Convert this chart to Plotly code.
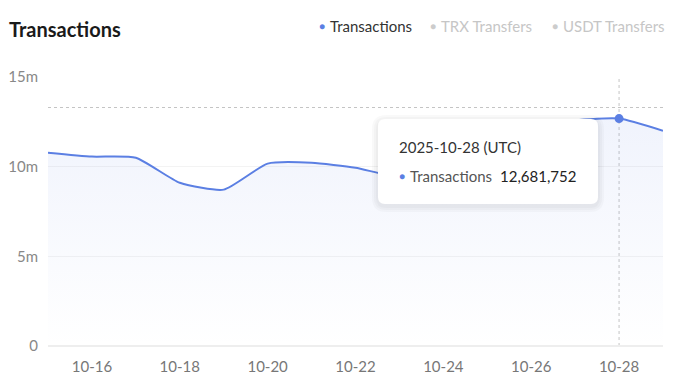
import plotly.graph_objects as go

# ---- data ----
dates = ["2025-10-15", "2025-10-16", "2025-10-17", "2025-10-18", "2025-10-19",
         "2025-10-20", "2025-10-21", "2025-10-22", "2025-10-23", "2025-10-24",
         "2025-10-25", "2025-10-26", "2025-10-27", "2025-10-28", "2025-10-29"]
transactions = [10780000, 10560000, 10500000, 9100000, 8720000,
                10170000, 10220000, 9940000, 9450000, 10300000,
                11200000, 12050000, 12580000, 12681752, 12000000]
ytick_vals = [0, 5000000, 10000000, 15000000]
ytick_text = ["0", "5m", "10m", "15m"]
legend_names = ["Transactions", "TRX Transfers", "USDT Transfers"]
hover_date = "2025-10-28"
hover_value = 12681752
cursor_y = 13300000

LINE = "#5b7fe3"
FONT = "Lato"

OFF = 8  # page body margin offset
W, H = 678 - OFF, 390 - OFF
L, T = 48 - OFF, 77 - OFF
R = W - (663 - OFF)
B = H - (346 - OFF)
PW, PH = W - L - R, H - T - B

def px(x):  # reference pixel x -> paper
    return (x - OFF - L) / PW

def py(y):  # reference pixel y -> paper
    return (H - B - (y - OFF)) / PH

fig = go.Figure()
fig.add_trace(go.Scatter(
    x=dates, y=transactions, mode="lines",
    line=dict(color=LINE, width=2, shape="spline", smoothing=0.55),
    fill="tozeroy",
    fillgradient=dict(type="vertical",
                      colorscale=[[0, "rgba(91,127,227,0.0)"], [1, "rgba(91,127,227,0.09)"]]),
    showlegend=False, hoverinfo="skip"))
fig.add_trace(go.Scatter(
    x=[hover_date], y=[hover_value], mode="markers",
    marker=dict(color=LINE, size=9), showlegend=False, hoverinfo="skip"))

shapes = []
# crosshair
shapes.append(dict(type="line", xref="x", yref="paper", x0=hover_date, x1=hover_date,
                   y0=0, y1=1, line=dict(color="#c4c4c4", width=1, dash="dot"), layer="below"))
shapes.append(dict(type="line", xref="paper", yref="y", x0=0, x1=1,
                   y0=cursor_y, y1=cursor_y, line=dict(color="#c4c4c4", width=1, dash="dot"), layer="below"))

def rrect(x0, y0, x1, y1, r):
    rx, ry = r / PW, r / PH
    a, b, c, d = px(x0), py(y1), px(x1), py(y0)  # left, bottom, right, top
    return (f"M{a+rx},{b} L{c-rx},{b} Q{c},{b} {c},{b+ry} L{c},{d-ry} Q{c},{d} {c-rx},{d} "
            f"L{a+rx},{d} Q{a},{d} {a},{d-ry} L{a},{b+ry} Q{a},{b} {a+rx},{b} Z")

for s in [6, 4, 2]:
    shapes.append(dict(type="path", xref="paper", yref="paper",
                       path=rrect(378 - s, 119 - s + 2, 598 + s, 204 + s + 2, 8 + s),
                       fillcolor="rgba(0,0,0,0.022)", line=dict(width=0), layer="above"))
shapes.append(dict(type="path", xref="paper", yref="paper", path=rrect(378, 119, 598, 204, 7),
                   fillcolor="white", line=dict(width=0), layer="above"))

ann = []
def text(x, y, t, size=15, color="#333", anchor="left", bold=False, pad=1):
    if bold:
        t = f"<b>{t}</b>"
    ann.append(dict(xref="paper", yref="paper", x=px(x), y=py(y), text=t, showarrow=False,
                    xanchor=anchor, yanchor="middle", borderpad=pad,
                    font=dict(family=FONT, size=size, color=color)))

# tooltip text
text(397, 147, "2025-10-28 (UTC)", 15, "#333")
text(397, 176, "●", 10, LINE)
text(408, 176, legend_names[0], 15, "#555")
text(498, 176, f"{hover_value:,}", 15, "#222")

# legend
leg = [(317, legend_names[0], LINE, "#333"),
       (428, legend_names[1], "#cccccc", "#c6c6c6"),
       (550, legend_names[2], "#cccccc", "#c6c6c6")]
for x, name, dc, tc in leg:
    text(x, 26, "●", 10, dc)
    text(x + 11, 26, name, 15, tc)

# title
text(8, 29, "Transactions", 20, "#1a1a1a", bold=True, pad=0)

fig.update_layout(
    width=W, height=H, margin=dict(l=L, r=R, t=T, b=B),
    paper_bgcolor="white", plot_bgcolor="white",
    font=dict(family=FONT, size=15, color="#888"),
    shapes=shapes, annotations=ann, showlegend=False,
    xaxis=dict(type="date", range=[dates[0], dates[-1]], tick0="2025-10-16",
               dtick=2 * 86400000, tickformat="%m-%d", showgrid=False, zeroline=False,
               showline=False, ticks="", ticklabelstandoff=10, automargin=False,
               tickfont=dict(family=FONT, size=15, color="#777"), fixedrange=True),
    yaxis=dict(range=[0, 15000000], tickvals=ytick_vals, ticktext=ytick_text,
               showgrid=True, gridcolor="#f3f3f3", gridwidth=1, zeroline=True,
               zerolinecolor="#eeeeee", showline=False, ticks="", ticklabelstandoff=9,
               automargin=False, tickfont=dict(family=FONT, size=15, color="#888")),
)

fig.write_html("out.html")
